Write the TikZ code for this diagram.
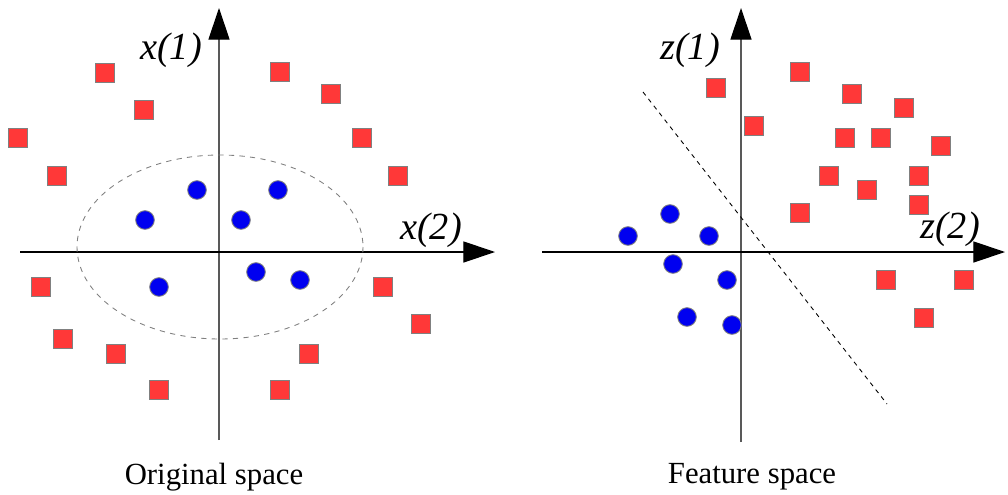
\documentclass[tikz,border=0pt]{standalone}
\usepackage{fontspec}
\setmainfont{LiberationSerif}[Extension=.ttf,UprightFont=*-Regular,ItalicFont=*-Italic,BoldFont=*-Bold]
\usetikzlibrary{arrows.meta}
\definecolor{sqred}{RGB}{255,56,56}
\definecolor{dotblue}{RGB}{0,0,240}
\tikzset{
  sq/.style={rectangle,draw=gray,fill=sqred,line width=0.6pt,minimum size=10.6pt,inner sep=0pt},
  dot/.style={circle,draw=gray,fill=dotblue,line width=0.5pt,minimum size=10.6pt,inner sep=0pt},
  axis/.style={line width=0.7pt,-{Triangle[length=18pt,width=12pt,black]}},
  lab/.style={font=\fontsize{21.8}{24}\selectfont\itshape,inner sep=0pt},
  captext/.style={font=\fontsize{17.5}{20}\selectfont,inner sep=0pt}
}
\begin{document}
\begin{tikzpicture}[x=0.02cm,y=-0.02cm]
\useasboundingbox (0,0) rectangle (1008,494);
% original space
\coordinate (ob) at (219,440);
\coordinate (ot) at (219,8);
\coordinate (ol) at (20,252);
\coordinate (or) at (495,252);
\draw[axis,draw=black!65] (ob)--(ot);
\draw[axis] (ol)--(or);
\node[lab] (x1) at (171,50) {x(1)};
\node[lab] (x2) at (431,230) {x(2)};
\coordinate (oc) at (220,247);
\draw[gray,dashed,line width=0.5pt] (oc) ellipse [x radius=143,y radius=92];
\foreach \x/\y [count=\i] in {105/73,280/72,144/110,331/94,18/138,362/138,57/176,398/176,
  41/287,383/287,63/339,421/324,116/354,309/354,159/390,280/390} {
  \node[sq] (a\i) at (\x,\y) {};
}
\foreach \x/\y [count=\i] in {197/190,278/190,145/220,241/220,256/272,300/280,159/287} {
  \node[dot] (p\i) at (\x,\y) {};
}
\node[captext] (orig) at (214,477) {Original space};
% feature space
\coordinate (fb) at (741,442);
\coordinate (ft) at (741,8);
\coordinate (fl) at (542,252);
\coordinate (fr) at (1005,252);
\draw[axis,draw=black!65] (fb)--(ft);
\draw[axis] (fl)--(fr);
\node[lab] (z1) at (690,50) {z(1)};
\node[lab] (z2) at (950,229) {z(2)};
\coordinate (cut1) at (643,92);
\coordinate (cut2) at (887,404);
\draw[line width=0.5pt,dash pattern=on 2.5pt off 2.5pt] (cut1)--(cut2);
\foreach \x/\y [count=\i] in {800/72,716/88,852/94,904/108,754/126,845/138,881/138,941/146,
  829/176,919/176,867/190,919/205,800/213,886/280,964/280,924/318} {
  \node[sq] (b\i) at (\x,\y) {};
}
\foreach \x/\y [count=\i] in {670/214,628/236,709/236,673/264,727/280,687/317,732/325} {
  \node[dot] (q\i) at (\x,\y) {};
}
\node[captext] (feat) at (752,477) {Feature space};
\end{tikzpicture}
\end{document}
